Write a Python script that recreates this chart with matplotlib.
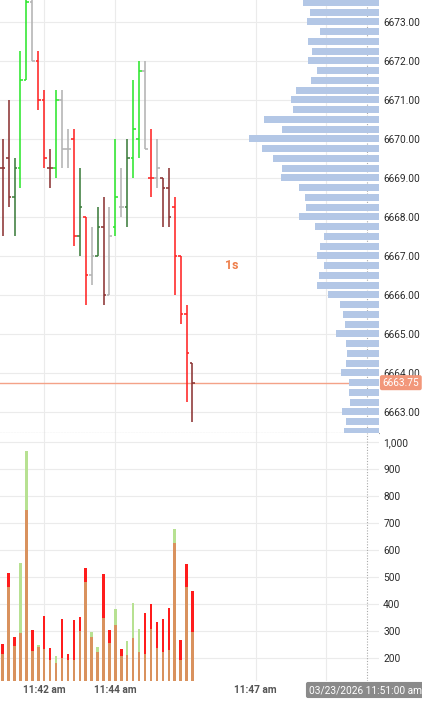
import matplotlib.pyplot as plt
import numpy as np

plt.rcParams['font.family'] = ['Roboto', 'DejaVu Sans']

# 1s OHLC bars
opens = [6669.25, 6669.5, 6668.5, 6669.25, 6671.5, 6673.5, 6672.0, 6671.0, 6669.25, 6669.25, 6671.0,
         6669.75, 6670.0, 6667.5, 6668.0, 6666.5, 6667.0, 6667.75, 6666.0, 6667.75, 6668.25, 6668.25,
         6669.5, 6670.0, 6671.75, 6669.0, 6669.0, 6669.0, 6668.75, 6668.25, 6667.0, 6665.5, 6664.25]
highs = [6670.0, 6671.0, 6669.5, 6672.25, 6674.0, 6674.25, 6672.25, 6671.25, 6669.75, 6671.25, 6671.25,
         6670.25, 6670.25, 6669.25, 6668.0, 6667.75, 6668.25, 6668.5, 6668.25, 6670.0, 6669.25, 6670.0,
         6671.5, 6672.0, 6672.0, 6670.25, 6670.0, 6669.0, 6669.25, 6668.5, 6667.0, 6665.75, 6664.25]
lows = [6667.5, 6668.25, 6667.5, 6668.75, 6671.5, 6672.0, 6670.75, 6669.25, 6668.75, 6669.0, 6669.25,
        6669.25, 6667.25, 6667.0, 6665.75, 6666.25, 6667.0, 6665.75, 6666.0, 6667.5, 6668.0, 6667.75,
        6669.0, 6669.5, 6669.75, 6668.5, 6668.75, 6667.75, 6667.75, 6666.0, 6665.25, 6663.25, 6662.75]
closes = [6669.25, 6668.5, 6669.25, 6671.5, 6673.5, 6672.0, 6671.0, 6669.5, 6669.25, 6671.0, 6669.75,
          6669.75, 6667.5, 6668.25, 6666.5, 6667.0, 6667.75, 6666.0, 6667.5, 6668.5, 6668.25, 6669.5,
          6670.25, 6671.75, 6669.75, 6669.0, 6669.25, 6668.75, 6668.0, 6667.0, 6665.5, 6664.5, 6663.75]
# g up, G dark up, r down, R dark down, n neutral
bar_kind = list("RRGggnrrRgnnrGrnGRngnGggnrnRRrrrR")

sell_vol = [252, 514, 279, 294, 748, 304, 242, 357, 237, 180, 344, 215, 341, 351, 535, 279, 221,
            511, 304, 322, 235, 211, 273, 222, 365, 399, 335, 344, 384, 625, 267, 548, 448]
buy_vol = [215, 464, 244, 553, 967, 227, 248, 232, 193, 207, 200, 193, 193, 300, 480, 295, 240,
           349, 257, 380, 207, 263, 403, 306, 215, 307, 236, 221, 230, 677, 193, 464, 297]

# volume profile
profile_prices = [6673.5, 6673.25, 6673.0, 6672.75, 6672.5, 6672.25, 6672.0, 6671.75, 6671.5,
                  6671.25, 6671.0, 6670.75, 6670.5, 6670.25, 6670.0, 6669.75, 6669.5, 6669.25,
                  6669.0, 6668.75, 6668.5, 6668.25, 6668.0, 6667.75, 6667.5, 6667.25, 6667.0,
                  6666.75, 6666.5, 6666.25, 6666.0, 6665.75, 6665.5, 6665.25, 6665.0, 6664.75,
                  6664.5, 6664.25, 6664.0, 6663.75, 6663.5, 6663.25, 6663.0, 6662.75, 6662.5]
profile_vol = [760, 694, 720, 594, 707, 674, 707, 624, 680, 830, 884, 864, 1154, 970, 1304, 1170,
               1057, 970, 980, 800, 744, 727, 797, 637, 547, 594, 617, 550, 604, 620, 510, 390,
               357, 340, 434, 330, 317, 334, 380, 300, 300, 294, 367, 327, 354]

last_price = 6663.75
time_ticks = [7, 19, 42.65, 54.5]
time_labels = ['11:42 am', '11:44 am', '11:47 am', '']
price_ticks = [6663, 6664, 6665, 6666, 6667, 6668, 6669, 6670, 6671, 6672, 6673]
vol_ticks = [200, 300, 400, 500, 600, 700, 800, 900, 1000]

colors = {'g': '#2ee62e', 'G': '#3d7d3d', 'r': '#ff2424', 'R': '#8c3434', 'n': '#b3b3b3'}
grid_c = '#ebebeb'
lab_c = '#2a2a2a'

fig = plt.figure(figsize=(4.22, 7.02), dpi=100)
ax = fig.add_axes([0, 0.3832, 0.8981, 0.6168])
axv = fig.add_axes([0, 0.0299, 0.8981, 0.3533], sharex=ax)

x = np.arange(len(opens))
bc = [colors[k] for k in bar_kind]

# price panel
ax.vlines(x, lows, highs, colors=bc, lw=1.15, zorder=3)
ax.hlines(opens, x - 0.45, x, colors=bc, lw=1.15, zorder=3)
ax.hlines(closes, x, x + 0.45, colors=bc, lw=1.15, zorder=3)
ax.axhline(last_price, color='#f4a288', lw=1.0, zorder=2)

ax.set_xlim(-0.455, 63.45)
ax.set_ylim(6662.46, 6673.56)
ax.set_yticks(price_ticks)
ax.yaxis.tick_right()
ax.yaxis.set_major_formatter(lambda v, p: f'{v:.2f}')
ax.tick_params(axis='y', length=0, pad=3, labelsize=7.3, labelcolor=lab_c)
ax.tick_params(axis='x', length=0, labelbottom=False)
ax.set_xticks(time_ticks)
ax.grid(True, color=grid_c, lw=0.8, zorder=0)
for s in ['top', 'right', 'left']:
    ax.spines[s].set_visible(False)
ax.spines['bottom'].set_linestyle((0, (1, 1.5)))
ax.spines['bottom'].set_color('#999999')
ax.spines['bottom'].set_linewidth(0.8)

ax.text(0.612, 0.386, '1s', transform=ax.transAxes, color='#ee7e4a', fontsize=9,
        fontweight='bold', ha='center', va='center')
ax.annotate(f'{last_price:.2f}', xy=(1.0, last_price), xycoords=('axes fraction', 'data'),
            xytext=(2.5, 0), textcoords='offset points', ha='left', va='center',
            fontsize=7.3, color='white',
            bbox=dict(boxstyle='round,pad=0.25,rounding_size=0.2', fc='#f2977a', ec='none'))

# volume profile on a twin x axis, anchored at the right edge
axp = ax.twiny()
axp.barh(profile_prices, profile_vol, height=0.18, color='#b3c7e6', zorder=1)
axp.set_xlim(3790, 0)
axp.axis('off')

# volume panel: shared part blended, excess in red (sell) or green (buy)
sell = np.array(sell_vol)
buy = np.array(buy_vol)
base = np.minimum(sell, buy)
axv.bar(x, base, width=0.42, color='#d9925e', zorder=3)
axv.bar(x, sell - base, bottom=base, width=0.42, color='#ff1c1c', zorder=3)
axv.bar(x, buy - base, bottom=base, width=0.42, color='#b7e192', zorder=3)
axv.set_ylim(115, 1033)
axv.set_yticks(vol_ticks)
axv.yaxis.tick_right()
axv.yaxis.set_major_formatter(lambda v, p: f'{v:,.0f}')
axv.tick_params(axis='y', length=0, pad=3, labelsize=7.3, labelcolor=lab_c)
axv.set_xticks(time_ticks)
axv.set_xticklabels(time_labels)
axv.tick_params(axis='x', length=0, pad=3, labelsize=7.3, labelcolor='#555555')
for t in axv.get_xticklabels():
    t.set_fontweight('bold')
axv.grid(True, color=grid_c, lw=0.8, zorder=0)
for s in axv.spines.values():
    s.set_visible(False)

# crosshair
for a in (ax, axv):
    a.axvline(61.4, color='#aaaaaa', lw=0.8, ls=(0, (1, 1.5)), zorder=4)

fig.text(309 / 422, 1 - 690 / 702, '03/23/2026 11:51:00 am', fontsize=7.3, color='white',
         ha='left', va='center',
         bbox=dict(boxstyle='round,pad=0.3,rounding_size=0.2', fc='#8a8a8a', ec='none'))

fig.savefig('out.png', dpi=100)
